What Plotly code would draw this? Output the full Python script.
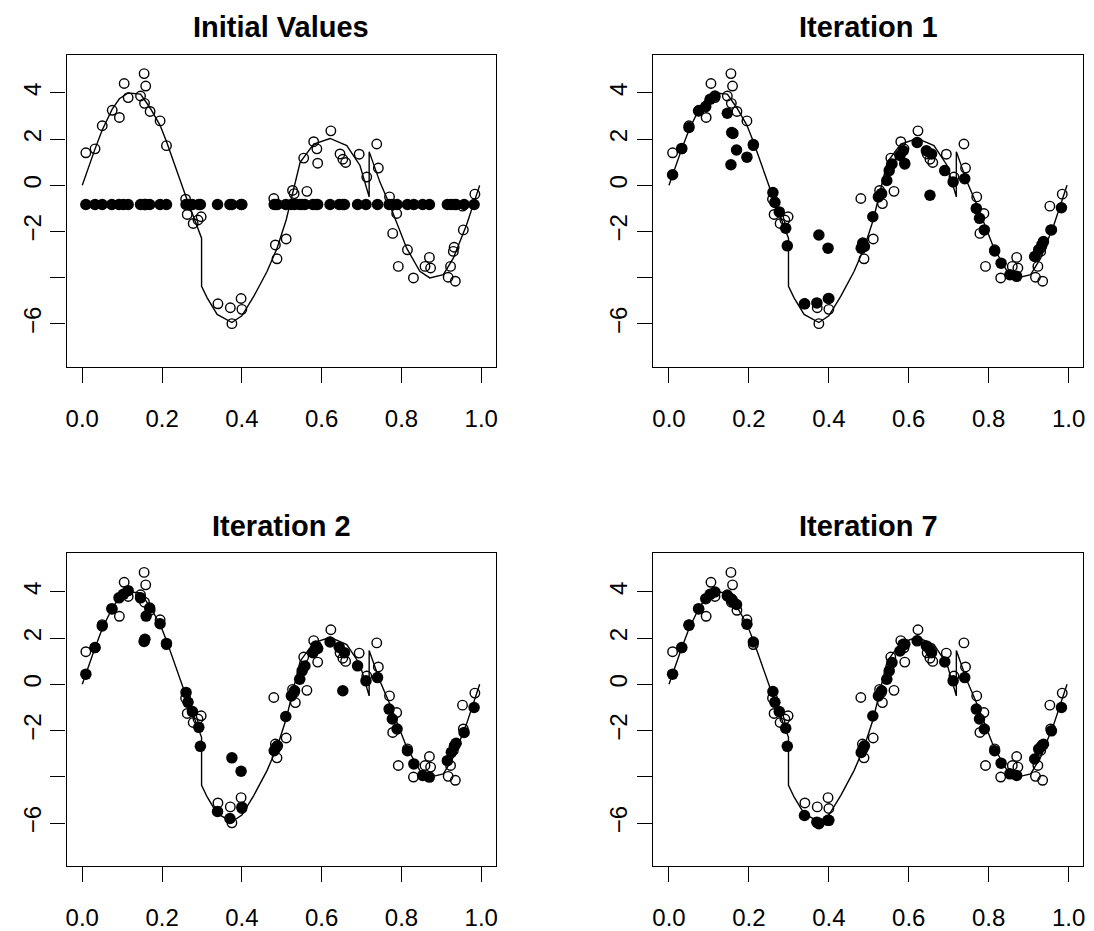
import plotly.graph_objects as go

# ---------------- data ----------------
x_obs = [0.009, 0.032, 0.050, 0.075, 0.093, 0.105, 0.115, 0.146, 0.155, 0.156,
         0.159, 0.170, 0.195, 0.211, 0.259, 0.263, 0.278, 0.290, 0.298, 0.340,
         0.371, 0.375, 0.398, 0.400, 0.480, 0.484, 0.488, 0.511, 0.527, 0.531,
         0.534, 0.555, 0.563, 0.580, 0.588, 0.590, 0.623, 0.646, 0.653, 0.660,
         0.694, 0.713, 0.738, 0.742, 0.770, 0.778, 0.788, 0.792, 0.815, 0.830,
         0.859, 0.870, 0.873, 0.917, 0.923, 0.930, 0.932, 0.935, 0.953, 0.955,
         0.984]
y_obs = [1.41, 1.58, 2.58, 3.25, 2.94, 4.41, 3.80, 3.87, 4.84, 3.55,
         4.30, 3.20, 2.79, 1.72, -0.60, -1.26, -1.65, -1.50, -1.36, -5.13,
         -5.30, -5.99, -4.90, -5.37, -0.57, -2.58, -3.18, -2.32, -0.22, -0.36,
         -0.79, 1.18, -0.26, 1.89, 1.58, 0.96, 2.36, 1.36, 1.13, 0.99,
         1.35, 0.36, 1.79, 0.75, -0.50, -2.08, -1.22, -3.51, -2.79, -4.01,
         -3.51, -3.12, -3.58, -3.98, -3.51, -2.86, -2.68, -4.15, -0.90, -1.93,
         -0.38]

x_fit = [0.009, 0.032, 0.050, 0.074, 0.092, 0.103, 0.115, 0.146, 0.155, 0.157,
         0.160, 0.169, 0.195, 0.211, 0.260, 0.265, 0.276, 0.292, 0.296, 0.339,
         0.370, 0.375, 0.398, 0.400, 0.481, 0.485, 0.489, 0.510, 0.524, 0.532,
         0.545, 0.551, 0.558, 0.578, 0.586, 0.590, 0.621, 0.644, 0.653, 0.657,
         0.690, 0.711, 0.740, 0.769, 0.777, 0.789, 0.815, 0.831, 0.853, 0.870,
         0.915, 0.925, 0.933, 0.937, 0.957, 0.982]
fit_initial = [-0.83, -0.83, -0.83, -0.83, -0.83, -0.83, -0.83, -0.83, -0.83, -0.83,
               -0.83, -0.83, -0.83, -0.83, -0.83, -0.83, -0.83, -0.83, -0.83, -0.83,
               -0.83, -0.83, -0.83, -0.83, -0.83, -0.83, -0.83, -0.83, -0.83, -0.83,
               -0.83, -0.83, -0.83, -0.83, -0.83, -0.83, -0.83, -0.83, -0.83, -0.83,
               -0.83, -0.83, -0.83, -0.83, -0.83, -0.83, -0.83, -0.83, -0.83, -0.83,
               -0.83, -0.83, -0.83, -0.83, -0.83, -0.83]
fit_iter1 = [0.46, 1.60, 2.51, 3.22, 3.41, 3.73, 3.87, 3.12, 0.89, 2.29,
             2.25, 1.53, 1.22, 1.77, -0.31, -0.74, -1.15, -1.86, -2.62, -5.13,
             -5.09, -2.15, -2.72, -4.90, -2.72, -2.50, -2.65, -1.36, -0.50, -0.36,
             0.21, 0.64, 0.93, 1.29, 1.50, 0.93, 1.86, 1.50, -0.43, 1.36,
             0.64, 0.15, 0.29, -1.00, -1.43, -1.93, -2.84, -3.37, -3.87, -3.94,
             -3.08, -2.79, -2.58, -2.43, -1.93, -0.97]
fit_iter2 = [0.44, 1.59, 2.52, 3.27, 3.74, 3.89, 4.05, 3.74, 1.85, 1.95,
             2.95, 3.30, 2.62, 1.77, -0.35, -0.78, -1.18, -1.86, -2.68, -5.50,
             -5.80, -3.18, -3.76, -5.31, -2.87, -2.75, -2.66, -1.39, -0.50, -0.28,
             0.22, 0.58, 0.79, 1.37, 1.66, 1.55, 1.83, 1.60, -0.28, 1.37,
             0.80, 0.15, 0.29, -1.07, -1.50, -1.93, -2.87, -3.44, -3.94, -4.01,
             -3.30, -2.94, -2.66, -2.55, -2.08, -1.00]
fit_iter7 = [0.44, 1.59, 2.55, 3.27, 3.70, 3.89, 3.99, 3.82, 3.70, 3.67,
             3.58, 3.45, 2.60, 1.83, -0.31, -0.78, -1.18, -1.90, -2.68, -5.67,
             -5.96, -6.03, -5.88, -5.88, -2.95, -2.80, -2.66, -1.37, -0.50, -0.28,
             0.22, 0.58, 0.94, 1.44, 1.73, 1.73, 1.88, 1.66, 1.50, 1.37,
             0.97, 0.15, 0.29, -1.07, -1.50, -1.93, -2.87, -3.41, -3.87, -3.94,
             -3.23, -2.80, -2.66, -2.59, -2.01, -1.00]

curve_x = [0.0, 0.009, 0.032, 0.05, 0.075, 0.093, 0.115, 0.146, 0.16, 0.17,
           0.195, 0.211, 0.259, 0.278, 0.29, 0.299, 0.299, 0.313, 0.338, 0.375,
           0.40, 0.43, 0.463, 0.488, 0.511, 0.53, 0.546, 0.58, 0.621, 0.663,
           0.696, 0.719, 0.719, 0.746, 0.771, 0.813, 0.846, 0.871, 0.905, 0.93,
           0.963, 0.996]
curve_y = [0.0, 0.45, 1.58, 2.4, 3.3, 3.75, 4.0, 3.95, 3.6, 3.35,
           2.6, 1.9, -0.45, -1.3, -1.85, -2.29, -4.37, -4.87, -5.59, -5.94,
           -5.65, -4.8, -3.73, -2.73, -1.5, -0.14, 1.0, 1.79, 2.03, 1.72,
           0.86, -0.5, 1.46, 0.14, -0.86, -2.72, -3.72, -4.01, -3.87, -3.15,
           -1.72, 0.0]

panel_titles = ["Initial Values", "Iteration 1", "Iteration 2", "Iteration 7"]
panel_fits = [fit_initial, fit_iter1, fit_iter2, fit_iter7]
x_tick_vals = [0.0, 0.2, 0.4, 0.6, 0.8, 1.0]
x_tick_text = ["0.0", "0.2", "0.4", "0.6", "0.8", "1.0"]
y_tick_vals = [-6, -4, -2, 0, 2, 4]
y_tick_text = ["\u22126", "", "\u22122", "0", "2", "4"]

# ---------------- layout geometry ----------------
W, H = 1094, 931
FONT = "Liberation Sans, Arial, Helvetica, sans-serif"
box_x = [(65.7, 496.0), (654.0, 1085.0), (65.7, 496.0), (654.0, 1085.0)]
box_y = [(55.0, 369.0), (55.0, 369.0), (557.0, 871.5), (557.0, 871.5)]
x_range = [-0.0395, 1.036]
y_range = [-7.85, 5.66]

fig = go.Figure()
layout = dict(
    width=W, height=H,
    margin=dict(l=0, r=0, t=0, b=0),
    paper_bgcolor="white", plot_bgcolor="white",
    showlegend=False,
    font=dict(family=FONT, color="black"),
)
annotations = []

for i in range(4):
    sfx = "" if i == 0 else str(i + 1)
    xa, ya = "x" + sfx, "y" + sfx
    x0, x1 = box_x[i]
    y0, y1 = box_y[i]
    common = dict(showgrid=False, zeroline=False, showline=True, mirror=True,
                  linecolor="black", linewidth=1.4, ticks="outside", ticklen=15,
                  tickwidth=1.4, tickcolor="black",
                  tickfont=dict(family=FONT, size=24, color="black"))
    layout["xaxis" + sfx] = dict(common, domain=[x0 / W, x1 / W], anchor=ya,
                                 range=x_range, tickmode="array",
                                 tickvals=x_tick_vals, ticktext=x_tick_text,
                                 ticklabelstandoff=15)
    layout["yaxis" + sfx] = dict(common, domain=[1 - y1 / H, 1 - y0 / H], anchor=xa,
                                 range=y_range, tickmode="array",
                                 tickvals=y_tick_vals, ticktext=y_tick_text,
                                 tickangle=-90, ticklabelstandoff=0)
    fig.add_trace(go.Scatter(x=x_obs, y=y_obs, mode="markers", xaxis=xa, yaxis=ya,
                             marker=dict(symbol="circle-open", size=9.5, color="black",
                                         line=dict(width=1.4, color="black")),
                             hoverinfo="skip"))
    fig.add_trace(go.Scatter(x=curve_x, y=curve_y, mode="lines", xaxis=xa, yaxis=ya,
                             line=dict(color="black", width=1.4), hoverinfo="skip"))
    fig.add_trace(go.Scatter(x=x_fit, y=panel_fits[i], mode="markers", xaxis=xa, yaxis=ya,
                             marker=dict(symbol="circle", size=11.5, color="black",
                                         line=dict(width=0)),
                             hoverinfo="skip"))
    annotations.append(dict(text="<b>" + panel_titles[i] + "</b>", xref="paper", yref="paper",
                            x=(x0 + x1) / 2 / W, y=1 - (y0 - 28) / H,
                            xanchor="center", yanchor="middle", showarrow=False,
                            font=dict(family=FONT, size=29, color="black")))

layout["annotations"] = annotations
fig.update_layout(**layout)
fig.write_html("out.html", config={"displayModeBar": False},
               post_script="document.body.style.margin='0';")
